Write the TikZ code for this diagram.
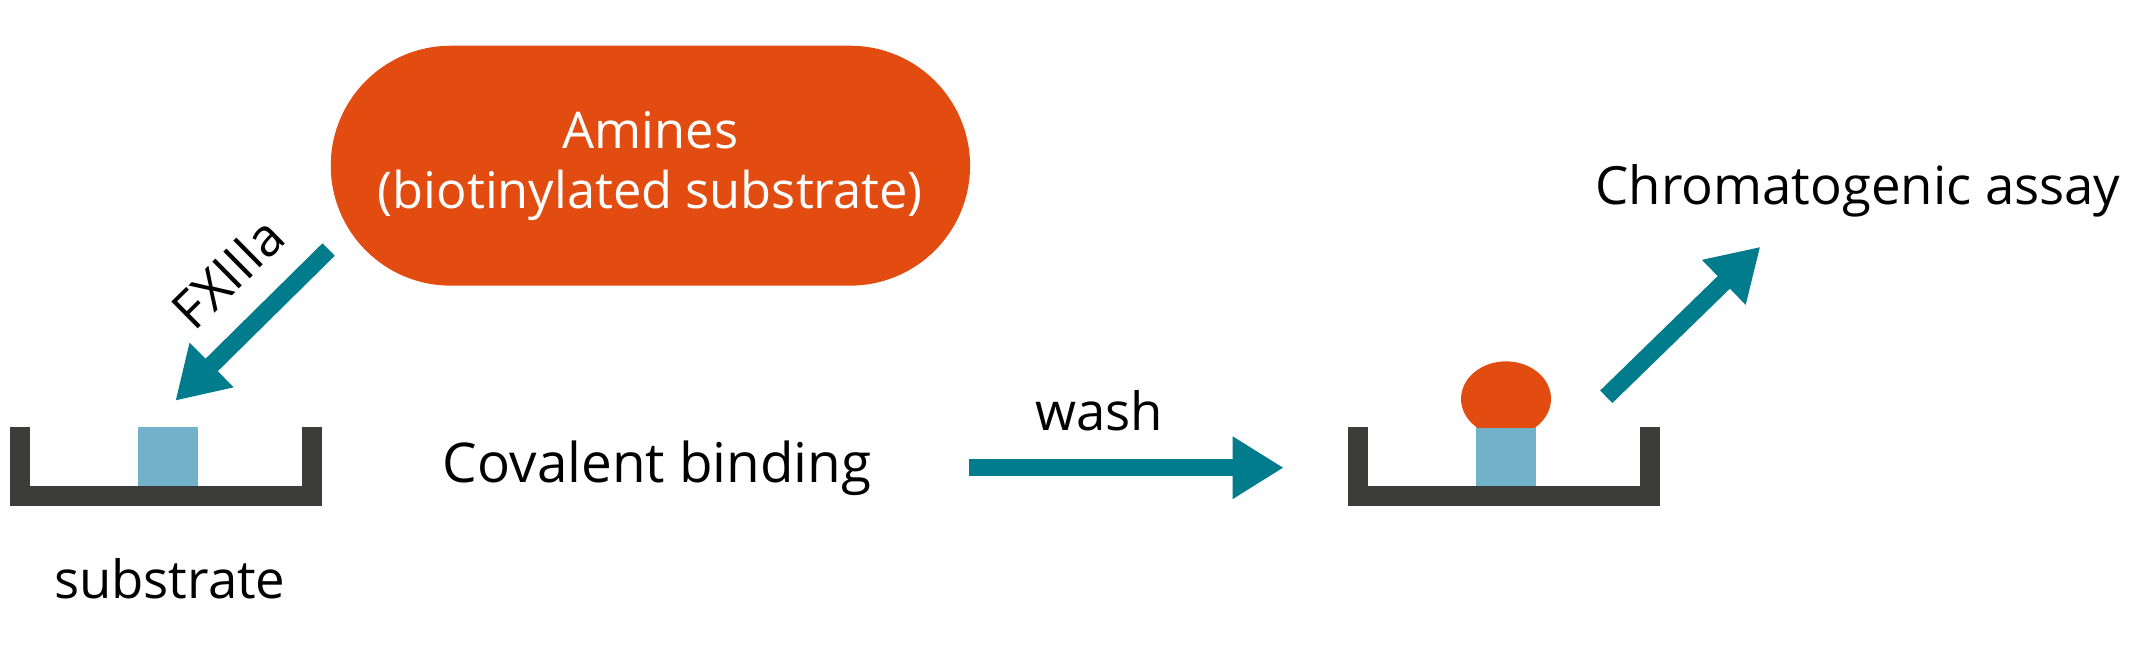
\documentclass[tikz,border=0pt]{standalone}
\usepackage{fontspec}
\setmainfont{Open Sans}
\usetikzlibrary{arrows.meta,shapes.misc,positioning}
\definecolor{amineorange}{HTML}{E24C10}
\definecolor{arrowteal}{HTML}{007C8C}
\definecolor{wellgray}{HTML}{3C3C3B}
\definecolor{substrateblue}{HTML}{71B2C9}

\begin{document}
\begin{tikzpicture}[x=0.013635cm,y=-0.013635cm,
            caption/.style={
                font=\fontsize{15}{17}\selectfont,
                inner sep=0pt
            },
            pill/.style={
                rounded rectangle,
                fill=amineorange,
                text=white,
                align=center,
                minimum width=6.63cm,
                minimum height=2.40cm,
                font=\fontsize{14.4}{17}\selectfont
            },
            flow/.style={draw=arrowteal, line width=0.175cm,
                -{Triangle[length=0.51cm,width=0.59cm]}},
            well/.style={draw=wellgray, line width=0.2cm, line join=miter}]
            \useasboundingbox (0,0) rectangle (1568,476);
            \node[pill] (amines) at (477,121.5) {Amines\\(biotinylated substrate)};
            % wells
            \draw[well] (15,313.5) -- (15,363.5) -- (228.5,363.5) -- (228.5,313.5);
            \fill[substrateblue] (101,313.5) rectangle (145,356.5);
            \draw[well] (996,313.5) -- (996,363.5) -- (1210,363.5) -- (1210,313.5);
            \fill[substrateblue] (1082.5,313.5) rectangle (1126.5,356.5);
            \begin{scope}
                \clip (1060,250) rectangle (1150,313.5);
                \fill[amineorange] (1104.5,292.5) ellipse [x radius=33, y radius=27.5];
            \end{scope}
            % texts
            \node[caption, anchor=base] (substrate) at (124.5,438.7) {substrate};
            \node[caption, anchor=base, font=\fontsize{15.6}{17}\selectfont] (covalent)
                at (482,354) {Covalent binding};
            \node[caption, anchor=base] (assay) at (1362.7,150.3) {Chromatogenic assay};
            % arrows
            \coordinate (fxtail) at (241,183);
            \coordinate (fxtip) at (128.6,293.9);
            \coordinate (washtail) at (710.7,343);
            \coordinate (washtip) at (941.4,343);
            \coordinate (assaytail) at (1178,291);
            \coordinate (assaytip) at (1291,181);
            \draw[flow] (fxtail) -- node[caption, pos=0.41, sloped, anchor=south,
                inner ysep=0.255cm] (fxlabel) {FXIIIa} (fxtip);
            \draw[flow] (washtail) -- node[caption, pos=0.413, anchor=south,
                inner ysep=0.281cm] (washlabel) {wash} (washtip);
            \draw[flow] (assaytail) -- (assaytip);
\end{tikzpicture}
\end{document}
